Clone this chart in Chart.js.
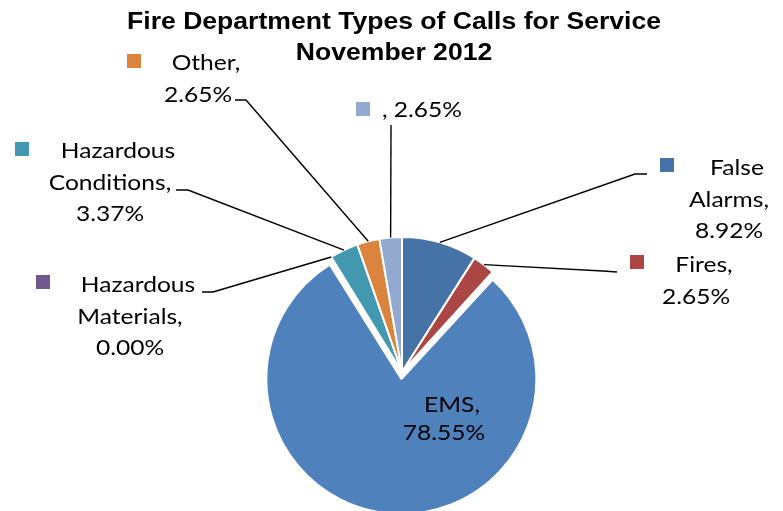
<!DOCTYPE html>
<html>
<head>
<meta charset="utf-8">
<script src="https://cdn.jsdelivr.net/npm/chart.js@4/dist/chart.umd.min.js"></script>
<style>
  html, body { margin: 0; padding: 0; background: #fff; }
  #wrap { width: 783px; height: 511px; }
</style>
</head>
<body>
<div id="wrap"><canvas id="pieChart" width="783" height="511"></canvas></div>
<script>
// call types and their share of the month's calls (percent)
var categories = ['False Alarms', 'Fires', 'EMS', 'Hazardous Materials', 'Hazardous Conditions', 'Other', ''];
var percents = [8.92, 2.65, 78.55, 0.00, 3.37, 2.65, 2.65];
var titleLines = ['Fire Department Types of Calls for Service', 'November 2012'];

var sliceColors = ['#4572A7', '#AA4643', '#4F81BD', '#71588F', '#4198AF', '#DB843D', '#93A9CF'];
var explode = [0, 0, 28, 0, 0, 0, 0];

// where each data label sits: block centre x, first baseline y, key square, leader elbow points
var labelSpots = [
    {cx: 729, y: 175, key: [660, 158], elbow: [[647, 174], [635, 174]]},
    {cx: 696, y: 272, key: [630, 255], elbow: [[617, 272], [603, 271]]},
    {cx: 444, y: 412, key: null, elbow: null, lh: 28},
    {cx: 130, y: 292, key: [36, 275], elbow: [[202, 292], [213, 292]]},
    {cx: 110, y: 158, key: [15, 142], elbow: [[176, 190], [188, 190]]},
    {cx: 198, y: 70, key: [127, 54], elbow: [[235, 100], [246, 100]]},
    {cx: 422, y: 117, key: [356, 102], elbow: [[391, 125]]}
];

var labelFont = '21px Lato';
var stretch = 1.17;

function stretchedText(ctx, text, cx, y, sx) {
    ctx.save();
    ctx.translate(cx, y);
    ctx.scale(sx, 1);
    ctx.textAlign = 'center';
    ctx.fillText(text, 0, 0);
    ctx.restore();
}

function labelLines(i) {
    var pct = percents[i].toFixed(2) + '%';
    if (!categories[i]) {
        return [', ' + pct];
    }
    var words = categories[i].split(' ');
    words[words.length - 1] += ',';
    return words.concat([pct]);
}

// the exploded slice keeps the pie's radius, it only moves outward
var keepRadius = {
    id: 'keepRadius',
    afterDatasetUpdate: function (chart, args) {
        args.meta.data.forEach(function (arc, i) {
            if (explode[i]) {
                arc.outerRadius -= explode[i] / 4;
            }
        });
    }
};

var pieLabels = {
    id: 'pieLabels',
    afterDraw: function (chart) {
        var ctx = chart.ctx;
        var arcs = chart.getDatasetMeta(0).data;

        ctx.save();
        ctx.fillStyle = '#000';
        ctx.textBaseline = 'alphabetic';
        ctx.font = 'bold 23px "Liberation Sans", Arial, sans-serif';
        stretchedText(ctx, titleLines[0], 394, 29, 1.155);
        stretchedText(ctx, titleLines[1], 394, 60, 1.155);

        // leader lines
        ctx.strokeStyle = '#000';
        ctx.lineWidth = 1.4;
        labelSpots.forEach(function (spot, i) {
            if (!spot.elbow) return;
            var arc = arcs[i];
            var mid = (arc.startAngle + arc.endAngle) / 2;
            var ax = arc.x + Math.cos(mid) * arc.outerRadius;
            var ay = arc.y + Math.sin(mid) * arc.outerRadius;
            ctx.beginPath();
            ctx.moveTo(spot.elbow[0][0], spot.elbow[0][1]);
            for (var k = 1; k < spot.elbow.length; k++) {
                ctx.lineTo(spot.elbow[k][0], spot.elbow[k][1]);
            }
            ctx.lineTo(ax, ay);
            ctx.stroke();
        });

        // label text and legend keys
        ctx.font = labelFont;
        labelSpots.forEach(function (spot, i) {
            var lines = labelLines(i);
            var lh = spot.lh || 31.5;
            if (spot.key) {
                ctx.fillStyle = sliceColors[i];
                ctx.fillRect(spot.key[0], spot.key[1], 14, 14);
            }
            ctx.fillStyle = '#000';
            lines.forEach(function (line, n) {
                var shift = (n === 0 && lines.length > 1) ? 8 : 0;
                stretchedText(ctx, line, spot.cx + shift, spot.y + n * lh, stretch);
            });
        });
        ctx.restore();
    }
};

var pieChart = new Chart(document.getElementById('pieChart'), {
    type: 'pie',
    data: {
        labels: categories,
        datasets: [{
            data: percents,
            backgroundColor: sliceColors,
            borderColor: '#ffffff',
            borderWidth: 2,
            offset: explode
        }]
    },
    options: {
        responsive: false,
        animation: false,
        radius: 135,
        layout: {padding: {left: 21, right: 0, top: 233, bottom: 0}},
        plugins: {
            legend: {display: false},
            tooltip: {enabled: false},
            title: {display: false}
        }
    },
    plugins: [keepRadius, pieLabels]
});
</script>
</body>
</html>
